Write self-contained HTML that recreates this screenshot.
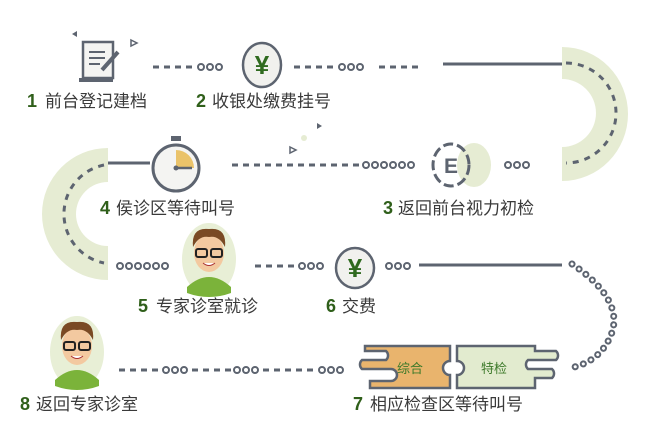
<!DOCTYPE html>
<html><head><meta charset="utf-8"><style>
html,body{margin:0;padding:0;background:#fff;}
svg{display:block;}
.t{font-family:"Liberation Sans","Noto Sans CJK SC",sans-serif;font-size:17px;fill:#3a3a3a;}
.n{font-family:"Liberation Sans",sans-serif;font-weight:bold;font-size:18px;fill:#2f5f1a;}
</style></head><body>
<svg width="660" height="442" viewBox="0 0 660 442" xmlns="http://www.w3.org/2000/svg">
<defs>
<g id="dots3"><circle cx="0" cy="0" r="3" fill="none" stroke="#5d6470" stroke-width="2"/><circle cx="9" cy="0" r="3" fill="none" stroke="#5d6470" stroke-width="2"/><circle cx="18" cy="0" r="3" fill="none" stroke="#5d6470" stroke-width="2"/></g>
<g id="kid">
<ellipse cx="0" cy="0" rx="27" ry="36" fill="#e8efd6"/>
<path d="M-22 28 Q0 8 22 28 L22 34 Q0 42 -22 34Z" fill="#7bb33a"/>
<ellipse cx="0" cy="-6" rx="15" ry="19" fill="#f3c9a0"/>
<path d="M-16 -12 Q-18 -32 0 -30 Q18 -32 16 -12 Q10 -24 0 -22 Q-10 -24 -16 -12Z" fill="#7a4a24"/>
<rect x="-13" y="-10" width="11" height="8" rx="2" fill="none" stroke="#222" stroke-width="2"/>
<rect x="2" y="-10" width="11" height="8" rx="2" fill="none" stroke="#222" stroke-width="2"/>
<path d="M-6 4 Q0 9 6 4" fill="#fff" stroke="#a33" stroke-width="1"/>
</g>
</defs>

<!-- green rings -->
<path d="M562 47 A66 67 0 0 1 562 181 L562 147 A34 34 0 0 0 562 79Z" fill="#e6ecd3"/>
<path d="M566 63 A50 50 0 0 1 566 163" fill="none" stroke="#5d6470" stroke-width="3" stroke-dasharray="6 6"/>
<path d="M108 148 A66 66 0 0 0 108 280 L108 246 A32 32 0 0 1 108 182Z" fill="#e6ecd3"/>
<path d="M104 165 A50 50 0 0 0 104 263" fill="none" stroke="#5d6470" stroke-width="3" stroke-dasharray="6 6"/>

<!-- row1 -->
<line x1="153" y1="67" x2="195" y2="67" stroke="#5d6470" stroke-width="3" stroke-dasharray="6 5"/>
<use href="#dots3" x="201" y="67"/>
<line x1="294" y1="67" x2="336" y2="67" stroke="#5d6470" stroke-width="3" stroke-dasharray="6 5"/>
<use href="#dots3" x="342" y="67"/>
<line x1="379" y1="67" x2="419" y2="67" stroke="#5d6470" stroke-width="3" stroke-dasharray="6 5"/>
<line x1="443" y1="64" x2="562" y2="64" stroke="#5d6470" stroke-width="3"/>

<!-- doc icon -->
<rect x="83" y="42" width="30" height="36" fill="#f4f4f2" stroke="#5d6470" stroke-width="2.5"/>
<path d="M79 78 h34 v4 h-34z" fill="#5d6470"/>
<line x1="89" y1="52" x2="105" y2="52" stroke="#5d6470" stroke-width="2"/>
<line x1="89" y1="58" x2="105" y2="58" stroke="#5d6470" stroke-width="2"/>
<line x1="89" y1="64" x2="100" y2="64" stroke="#5d6470" stroke-width="2"/>
<line x1="102" y1="70" x2="118" y2="52" stroke="#5d6470" stroke-width="4"/>
<path d="M72 34 l5 -3 v6z" fill="#5d6470"/>
<path d="M131 40 l6 3 l-6 3z" fill="none" stroke="#5d6470" stroke-width="1.5"/>

<!-- yen 1 -->
<ellipse cx="262" cy="65" rx="19" ry="22" fill="#f1f1ee" stroke="#5d6470" stroke-width="2.5"/>
<text x="262" y="74" text-anchor="middle" font-family="Liberation Sans" font-weight="bold" font-size="26" fill="#2f6a1f">¥</text>

<text x="27" y="107" class="n">1</text><text x="45" y="107" class="t">前台登记建档</text>
<text x="196" y="107" class="n">2</text><text x="212" y="107" class="t">收银处缴费挂号</text>

<!-- row2 -->
<line x1="108" y1="163" x2="150" y2="163" stroke="#5d6470" stroke-width="3"/>
<line x1="232" y1="165" x2="360" y2="165" stroke="#5d6470" stroke-width="3" stroke-dasharray="6 5"/>
<use href="#dots3" x="366" y="165"/><use href="#dots3" x="393" y="165"/>
<use href="#dots3" x="508" y="165"/>
<!-- stopwatch -->
<rect x="171" y="136" width="10" height="5" fill="#5d6470"/>
<circle cx="176" cy="168" r="23" fill="#f4f4f2" stroke="#5d6470" stroke-width="3"/>
<path d="M176 168 V150 A18 18 0 0 1 194 168Z" fill="#eac36a"/>
<line x1="176" y1="168" x2="192" y2="168" stroke="#5d6470" stroke-width="2.5"/>
<circle cx="176" cy="168" r="2.5" fill="#5d6470"/>
<!-- E -->
<ellipse cx="474" cy="165" rx="17" ry="22" fill="#e6ecd3"/>
<ellipse cx="451" cy="165" rx="18" ry="21" fill="none" stroke="#5d6470" stroke-width="3" stroke-dasharray="10 4"/>
<text x="451" y="173" text-anchor="middle" font-family="Liberation Sans" font-weight="bold" font-size="21" fill="#5d6470">E</text>
<path d="M322 126 l-5 3 v-6z" fill="#5d6470"/>
<path d="M290 147 l6 3 l-6 3z" fill="none" stroke="#5d6470" stroke-width="1.5"/>
<circle cx="304" cy="138" r="3" fill="#e6ecd3"/>

<text x="100" y="214" class="n">4</text><text x="116" y="214" class="t">侯诊区等待叫号</text>
<text x="383" y="214" class="n">3</text><text x="398" y="214" class="t">返回前台视力初检</text>

<!-- row3 -->
<use href="#dots3" x="120" y="266"/><use href="#dots3" x="147" y="266"/>
<use href="#kid" x="209" y="259"/>
<line x1="255" y1="266" x2="297" y2="266" stroke="#5d6470" stroke-width="3" stroke-dasharray="6 5"/>
<use href="#dots3" x="302" y="266"/>
<ellipse cx="355" cy="268" rx="19" ry="20" fill="#f1f1ee" stroke="#5d6470" stroke-width="2.5"/>
<text x="355" y="277" text-anchor="middle" font-family="Liberation Sans" font-weight="bold" font-size="26" fill="#2f6a1f">¥</text>
<use href="#dots3" x="389" y="266"/>
<line x1="419" y1="265" x2="562" y2="265" stroke="#5d6470" stroke-width="3"/>
<!-- dotted curve of small circles -->
<path d="M572 264 Q625 300 611 335 Q600 362 570 368" fill="none" stroke="#5d6470" stroke-width="7" stroke-linecap="round" stroke-dasharray="0.1 8.5"/>
<path d="M572 264 Q625 300 611 335 Q600 362 570 368" fill="none" stroke="#fff" stroke-width="3" stroke-linecap="round" stroke-dasharray="0.1 8.5"/>

<text x="138" y="312" class="n">5</text><text x="156" y="312" class="t">专家诊室就诊</text>
<text x="326" y="312" class="n">6</text><text x="342" y="312" class="t">交费</text>

<!-- row4 -->
<use href="#kid" x="77" y="352"/>
<line x1="119" y1="370" x2="160" y2="370" stroke="#5d6470" stroke-width="3" stroke-dasharray="6 5"/>
<use href="#dots3" x="166" y="370"/>
<line x1="192" y1="370" x2="232" y2="370" stroke="#5d6470" stroke-width="3" stroke-dasharray="6 5"/>
<use href="#dots3" x="237" y="370"/>
<line x1="263" y1="370" x2="316" y2="370" stroke="#5d6470" stroke-width="3" stroke-dasharray="6 5"/>
<use href="#dots3" x="322" y="370"/>
<!-- puzzle -->
<path d="M365 346 H450 V361 A6 6 0 0 0 450 375 V388 H370 V381 H391 A6 6 0 0 0 391 369 H362 A6 6 0 0 1 362 360 H386 A6 6 0 0 0 386 351 H365Z" fill="#e9b46d" stroke="#5d6470" stroke-width="2.5"/>
<path d="M457 346 H535 V351 H556 A6 6 0 0 1 556 360 H528 A6 6 0 0 0 528 369 H552 A6 6 0 0 1 552 378 H535 V388 H457 V375 A6 6 0 0 0 457 361Z" fill="#e2ebcf" stroke="#5d6470" stroke-width="2.5"/>
<text x="410" y="373" text-anchor="middle" font-family="Liberation Sans,Noto Sans CJK SC,sans-serif" font-size="13" fill="#3d7a2a">综合</text>
<text x="494" y="373" text-anchor="middle" font-family="Liberation Sans,Noto Sans CJK SC,sans-serif" font-size="13" fill="#3d7a2a">特检</text>

<text x="20" y="410" class="n">8</text><text x="36" y="410" class="t">返回专家诊室</text>
<text x="353" y="410" class="n">7</text><text x="370" y="410" class="t">相应检查区等待叫号</text>
</svg>
</body></html>
